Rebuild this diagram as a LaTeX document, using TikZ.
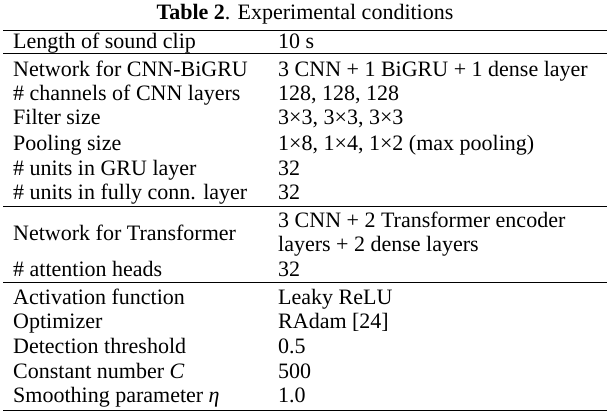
\documentclass[tikz,border=0pt]{standalone}
\usepackage{fontspec}
\setmainfont{Liberation Serif}
\begin{document}
\begin{tikzpicture}[x=1pt,y=-1pt,
  cell/.style={anchor=base west,inner sep=0pt,font=\fontsize{22}{24}\selectfont},
  rule/.style={line width=1pt}]
\useasboundingbox (0,0) rectangle (610,416);
\node[anchor=base,inner sep=0pt,font=\fontsize{22}{24}\selectfont] (title) at (305,19) {\textbf{Table 2}. Experimental conditions};
\draw[rule] (3,30) -- (607,30);
\draw[rule] (3,53) -- (607,53);
\draw[rule] (3,206) -- (607,206);
\draw[rule] (3,282) -- (607,282);
\draw[rule] (3,410) -- (607,410);
\foreach \y/\a/\b [count=\i] in {
 48/Length of sound clip/10 s,
 76/Network for CNN-BiGRU/3 CNN + 1 BiGRU + 1 dense layer,
 100/\# channels of CNN layers/{128, 128, 128},
 124/Filter size/{3×3, 3×3, 3×3},
 150/Pooling size/{1×8, 1×4, 1×2 (max pooling)},
 175/\# units in GRU layer/32,
 199/\# units in fully conn. layer/32,
 240/Network for Transformer/{},
 276/\# attention heads/32,
 304/Activation function/Leaky ReLU,
 328/Optimizer/RAdam [24],
 353/Detection threshold/0.5,
 378/Constant number \textit{C}/500,
 402/Smoothing parameter \textit{η}/1.0}
{
  \node[cell] (l\i) at (13,\y) {\a};
  \node[cell] (r\i) at (278,\y) {\b};
}
\node[cell] (t1) at (278,227) {3 CNN + 2 Transformer encoder};
\node[cell] (t2) at (278,251) {layers + 2 dense layers};
\end{tikzpicture}
\end{document}
